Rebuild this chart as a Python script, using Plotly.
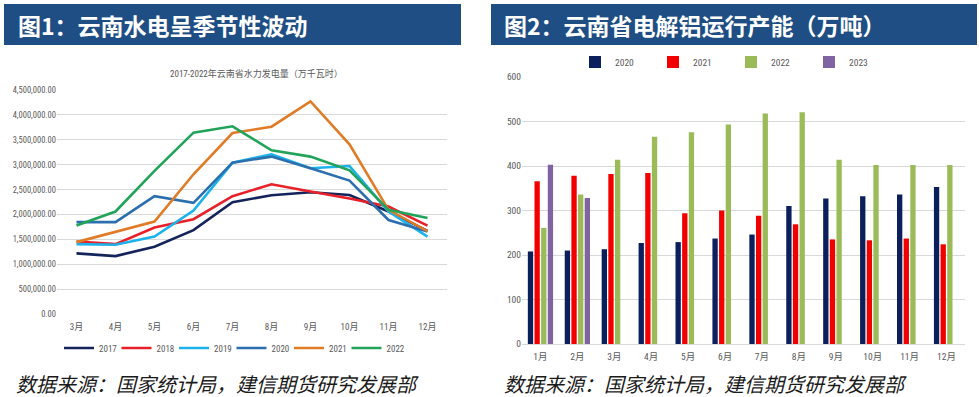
import plotly.graph_objects as go

# ---------------- data ----------------
months_left = ["3月", "4月", "5月", "6月", "7月", "8月", "9月", "10月", "11月", "12月"]
hydro_2017 = [1217000, 1163000, 1350000, 1684000, 2246000, 2386000, 2447000, 2390000, 2060000, 1670000]
hydro_2018 = [1457000, 1404000, 1738000, 1905000, 2366000, 2607000, 2460000, 2320000, 2159000, 1775000]
hydro_2019 = [1404000, 1390000, 1557000, 2079000, 3040000, 3209000, 2928000, 2972000, 2060000, 1553000]
hydro_2020 = [1845000, 1845000, 2366000, 2233000, 3040000, 3162000, 2928000, 2680000, 1888000, 1658000]
hydro_2021 = [1444000, 1658000, 1858000, 2807000, 3636000, 3763000, 4271000, 3409000, 2092000, 1667000]
hydro_2022 = [1778000, 2059000, 2874000, 3643000, 3770000, 3289000, 3162000, 2885000, 2092000, 1928000]

months_right = ["1月", "2月", "3月", "4月", "5月", "6月", "7月", "8月", "9月", "10月", "11月", "12月"]
al_2020 = [208, 210, 213, 227, 229, 237, 246, 310, 327, 332, 336, 353]
al_2021 = [366, 378, 382, 384, 294, 300, 288, 269, 235, 233, 237, 224]
al_2022 = [261, 336, 414, 466, 476, 493, 518, 521, 414, 402, 402, 402]
al_2023 = [403, 328, None, None, None, None, None, None, None, None, None, None]

W, H = 979, 397
def px_x(x): return x / W
def px_y(y): return (H - y) / H

NARROW = "Liberation Sans Narrow, Arial Narrow, Roboto Condensed, Liberation Sans, Noto Sans CJK SC"
CJK = "Noto Sans CJK SC"
GRAY = "#595959"
GRID = "#D9D9D9"
NAVY_BANNER = "#1F4E84"

fig = go.Figure()

line_series = [
    ("2017", hydro_2017, "#14245A"),
    ("2018", hydro_2018, "#E8202A"),
    ("2019", hydro_2019, "#1CB2EA"),
    ("2020", hydro_2020, "#2B6FAF"),
    ("2021", hydro_2021, "#E07B28"),
    ("2022", hydro_2022, "#22A35A"),
]
line_legends = ["legend", "legend3", "legend4", "legend5", "legend6", "legend7"]
for (name, vals, col), lg in zip(line_series, line_legends):
    fig.add_trace(go.Scatter(x=months_left, y=vals, name=name, mode="lines",
                             line=dict(color=col, width=2.6),
                             xaxis="x", yaxis="y", legend=lg))

bar_series = [
    ("2020", al_2020, "#0A1F5C"),
    ("2021", al_2021, "#F20000"),
    ("2022", al_2022, "#9BBB59"),
    ("2023", al_2023, "#8064A2"),
]
for name, vals, col in bar_series:
    fig.add_trace(go.Bar(x=months_right, y=vals, name=name, marker_color=col,
                         marker_line_width=0, xaxis="x2", yaxis="y2", legend="legend2"))

legend_font = dict(family=NARROW, size=9, color=GRAY)
layout_legends = {}
for i, lg in enumerate(line_legends):
    layout_legends[lg] = dict(orientation="h", x=px_x(59 + i * 57.5), y=px_y(348),
                              xanchor="left", yanchor="middle", font=legend_font,
                              bgcolor="rgba(0,0,0,0)", itemwidth=30)

fig.update_layout(
    width=W, height=H,
    margin=dict(l=0, r=0, t=0, b=0, pad=0),
    paper_bgcolor="white", plot_bgcolor="white",
    barmode="group", bargap=0.28, bargroupgap=0.2,
    font=dict(family=NARROW, size=9, color=GRAY),
    xaxis=dict(domain=[px_x(57), px_x(447)], anchor="y", type="category", automargin=False,
               range=[-0.5, len(months_left) - 0.5], ticklabelstandoff=6,
               showgrid=False, showline=False, zeroline=False, ticks="",
               tickfont=dict(family=NARROW, size=9, color=GRAY)),
    yaxis=dict(domain=[px_y(314), px_y(90)], anchor="x", range=[0, 4500000], automargin=False,
               dtick=500000, tickformat=",.2f", showgrid=True, gridcolor=GRID,
               gridwidth=1, zeroline=False, showline=False, ticks="",
               tickfont=dict(family=NARROW, size=8.5, color=GRAY)),
    xaxis2=dict(domain=[px_x(522), px_x(965)], anchor="y2", type="category", automargin=False,
                range=[-0.5, len(months_right) - 0.5], ticklabelstandoff=4,
                showgrid=False, showline=True, linecolor=GRID, linewidth=1,
                zeroline=False, ticks="",
                tickfont=dict(family=NARROW, size=9.5, color=GRAY)),
    yaxis2=dict(domain=[px_y(344), px_y(77)], anchor="x2", range=[0, 600], automargin=False,
                dtick=100, showgrid=True, gridcolor=GRID, gridwidth=1,
                zeroline=False, showline=False, ticks="",
                tickfont=dict(family=NARROW, size=9.5, color=GRAY)),
    legend2=dict(orientation="h", x=px_x(575), y=px_y(62), xanchor="left", yanchor="middle",
                 font=dict(family=NARROW, size=9.5, color=GRAY), bgcolor="rgba(0,0,0,0)",
                 entrywidth=33, entrywidthmode="pixels", itemwidth=30),
    showlegend=True,
    **layout_legends,
)

# banners
fig.add_shape(type="rect", xref="paper", yref="paper",
              x0=px_x(4), x1=px_x(461), y0=px_y(45), y1=px_y(4),
              fillcolor=NAVY_BANNER, line_width=0, layer="below")
fig.add_shape(type="rect", xref="paper", yref="paper",
              x0=px_x(491), x1=px_x(977), y0=px_y(45), y1=px_y(4),
              fillcolor=NAVY_BANNER, line_width=0, layer="below")
fig.add_annotation(text="<b>图1：云南水电呈季节性波动</b>", xref="paper", yref="paper",
                   x=px_x(16), y=px_y(25), xanchor="left", yanchor="middle", showarrow=False,
                   font=dict(family=CJK, size=23, color="white"))
fig.add_annotation(text="<b>图2：云南省电解铝运行产能（万吨）</b>", xref="paper", yref="paper",
                   x=px_x(502), y=px_y(25), xanchor="left", yanchor="middle", showarrow=False,
                   font=dict(family=CJK, size=23, color="white"))

# chart title left
fig.add_annotation(text="2017-2022年云南省水力发电量（万千瓦时）", xref="paper", yref="paper",
                   x=px_x(256), y=px_y(73), xanchor="center", yanchor="middle", showarrow=False,
                   font=dict(family=NARROW, size=9, color=GRAY))

# sources
for x0 in (14, 502):
    fig.add_annotation(text="<i>数据来源：国家统计局，建信期货研究发展部 </i>", xref="paper", yref="paper",
                       x=px_x(x0), y=px_y(383), xanchor="left", yanchor="middle", showarrow=False,
                       font=dict(family=CJK, size=20, color="#1A1A1A"))

fig.write_html("out.html", config={"displayModeBar": False},
               post_script="document.body.style.margin='0';document.body.style.overflow='hidden';")
